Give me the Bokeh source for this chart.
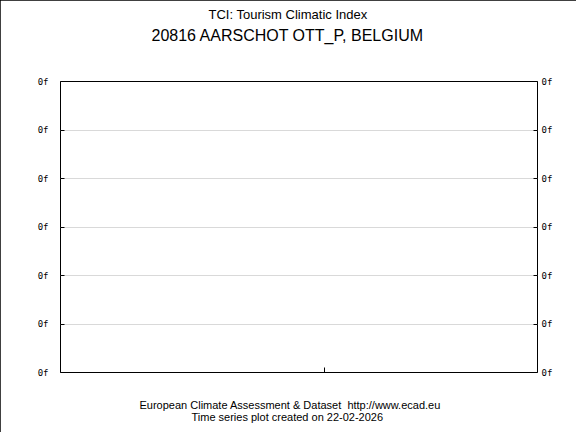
from bokeh.plotting import figure
from bokeh.models import Range1d, LinearAxis, FixedTicker, Title
from bokeh.embed import file_html
from bokeh.resources import INLINE

# ---- data ----
title_main = "TCI: Tourism Climatic Index"
title_station = "20816 AARSCHOT OTT_P, BELGIUM"
footer_source = "European Climate Assessment & Dataset\u00a0 http://www.ecad.eu"
footer_date = "Time series plot created on 22-02-2026"
y_ticks = [0, 1, 2, 3, 4, 5, 6]
y_tick_labels = ["0f", "0f", "0f", "0f", "0f", "0f", "0f"]
x_range_span = [0.0, 1.0]
x_ticks = [0.553]
tci_x = []      # the series has no data
tci_y = []

p = figure(width=576, height=432, output_backend="svg", toolbar_location=None,
           x_range=Range1d(*x_range_span), y_range=Range1d(y_ticks[0], y_ticks[-1]),
           x_axis_location=None, y_axis_location=None,
           min_border_left=60, min_border_right=39,
           min_border_top=81, min_border_bottom=60)
p.line(tci_x, tci_y, line_color="black")

p.outline_line_color = "black"
p.outline_line_width = 1
p.background_fill_color = "white"
p.border_fill_color = "white"
p.xgrid.visible = False
p.ygrid.ticker = FixedTicker(ticks=y_ticks)
p.ygrid.grid_line_color = "#d9d9d9"
p.ygrid.grid_line_width = 1

tick_map = {t: l for t, l in zip(y_ticks, y_tick_labels)}

def yaxis(side, standoff):
    ax = LinearAxis(ticker=FixedTicker(ticks=y_ticks),
                    major_label_overrides=tick_map,
                    axis_line_color=None, major_tick_in=4, major_tick_out=0,
                    minor_tick_line_color=None, major_tick_line_color="black",
                    major_label_standoff=standoff,
                    major_label_text_font="DejaVu Sans Mono",
                    major_label_text_font_size="9px",
                    major_label_text_color="black")
    p.add_layout(ax, side)

yaxis("left", 12)
yaxis("right", 4)

xax = LinearAxis(ticker=FixedTicker(ticks=x_ticks), axis_line_color=None,
                 major_tick_in=5, major_tick_out=0, minor_tick_line_color=None,
                 major_label_text_font_size="0px", major_label_text_color=None)
p.add_layout(xax, "below")

FONT = "Liberation Sans"

def title(text, size, offset, standoff, valign, side, lh=1.2):
    p.add_layout(Title(text=text, align="left", offset=offset, standoff=standoff,
                       vertical_align=valign, text_font=FONT,
                       text_font_size=size, text_font_style="normal",
                       text_line_height=lh, text_color="black"), side)

# above: nearest the frame first
title(" ", "10px", 0, 25, "bottom", "above")
title(title_station, "16px", 91, 0, "bottom", "above")
title(title_main, "13px", 148, 6, "bottom", "above")
# below: nearest the frame first
title(" ", "10px", 0, 11, "top", "below")
title(footer_source, "11px", 79, 0, "bottom", "below", lh=0.8)
title(footer_date, "11px", 131, 0, "top", "below")

p.styles = {"outline": "1px solid black", "outline-offset": "-1px"}

open("out.html", "w").write(file_html(p, INLINE))
